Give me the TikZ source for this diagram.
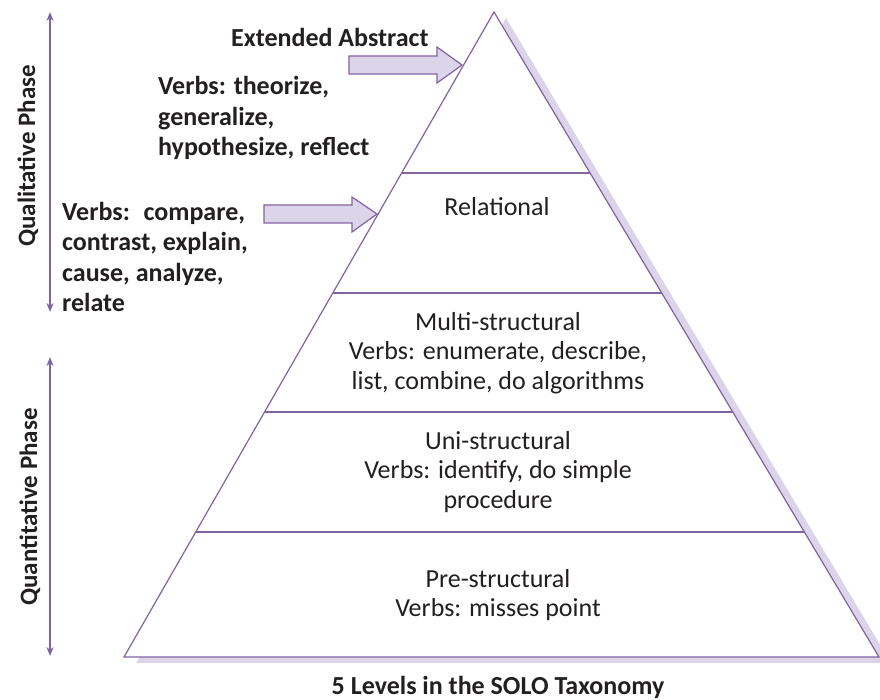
\documentclass[tikz,border=0pt]{standalone}
\usepackage{fontspec}
\setmainfont{Carlito}
\usepackage{xcolor}
\usetikzlibrary{arrows.meta,calc}

\definecolor{solopurple}{RGB}{128,100,162}
\definecolor{sololight}{RGB}{220,212,233}
\definecolor{solotext}{RGB}{35,31,32}

\begin{document}
\begin{tikzpicture}[x=1pt,y=-1pt,
    every node/.style={text=solotext,inner sep=0pt},
    level/.style={align=center,font=\fontsize{26}{29.5}\selectfont},
    verbs/.style={align=left,font=\bfseries\fontsize{26}{30.5}\selectfont},
    phase/.style={rotate=90,font=\bfseries\fontsize{25}{26}\selectfont},
    blockarrow/.style={draw=solopurple,fill=sololight,line width=1.2pt,line join=miter},
    phasearrow/.style={draw=solopurple,line width=1.5pt,{Stealth[length=9pt,width=7pt]}-{Stealth[length=9pt,width=7pt]}}]

        \useasboundingbox (0,0) rectangle (880,700);

        % Corners of the pyramid
        \coordinate (apex) at (494,12);
        \coordinate (bl) at (124,657);
        \coordinate (br) at (879,657);

        % Draw the shadow behind the pyramid
        \fill[sololight] ([shift={(12,6)}]apex) -- ([shift={(12,6)}]bl) -- ([shift={(12,6)}]br) -- cycle;
        \filldraw[fill=white,draw=solopurple,line width=1.2pt] (apex) -- (bl) -- (br) -- cycle;

        % Draw the level borders
        \foreach \y in {173,293,412,532}
            \draw[solopurple,line width=1.2pt]
                ($(apex)!{(\y-12)/645}!(bl)$) -- ($(apex)!{(\y-12)/645}!(br)$);

        % Level names
        \node[level] (relational) at (497,207) {Relational};
        \node[level] (multi) at (498,353) {Multi-structural\\Verbs: enumerate, describe,\\list, combine, do algorithms};
        \node[level] (uni) at (498,472) {Uni-structural\\Verbs: identify, do simple\\procedure};
        \node[level] (pre) at (498,595) {Pre-structural\\Verbs: misses point};

        % Labels left of the pyramid
        \node[verbs,anchor=west] (extabs) at (231,37) {Extended Abstract};
        \node[verbs,anchor=west] (theorize) at (158,118) {Verbs: theorize,\\generalize,\\hypothesize, reflect};
        \node[verbs,anchor=west] (compare) at (62,257) {Verbs:~ compare,\\contrast, explain,\\cause, analyze,\\relate};

        % Block arrows pointing at the pyramid
        \draw[blockarrow] (349,56) -- (437,56) -- (437,47) -- (462,65) -- (437,83) -- (437,74) -- (349,74) -- cycle;
        \draw[blockarrow] (264,205) -- (352,205) -- (352,197) -- (377,214) -- (352,232) -- (352,223) -- (264,223) -- cycle;

        % Phase arrows
        \coordinate (qualtop) at (50,12);
        \coordinate (qualbot) at (50,312);
        \coordinate (quantop) at (50,357);
        \coordinate (quanbot) at (50,656);
        \draw[phasearrow] (qualtop) -- (qualbot);
        \draw[phasearrow] (quantop) -- (quanbot);
        \node[phase] (qual) at (28,156) {Qualitative Phase};
        \node[phase] (quan) at (30,507) {Quantitative Phase};

        % Title
        \node[font=\bfseries\fontsize{26}{30}\selectfont] (title) at (498,687) {5 Levels in the SOLO Taxonomy};

\end{tikzpicture}
\end{document}
